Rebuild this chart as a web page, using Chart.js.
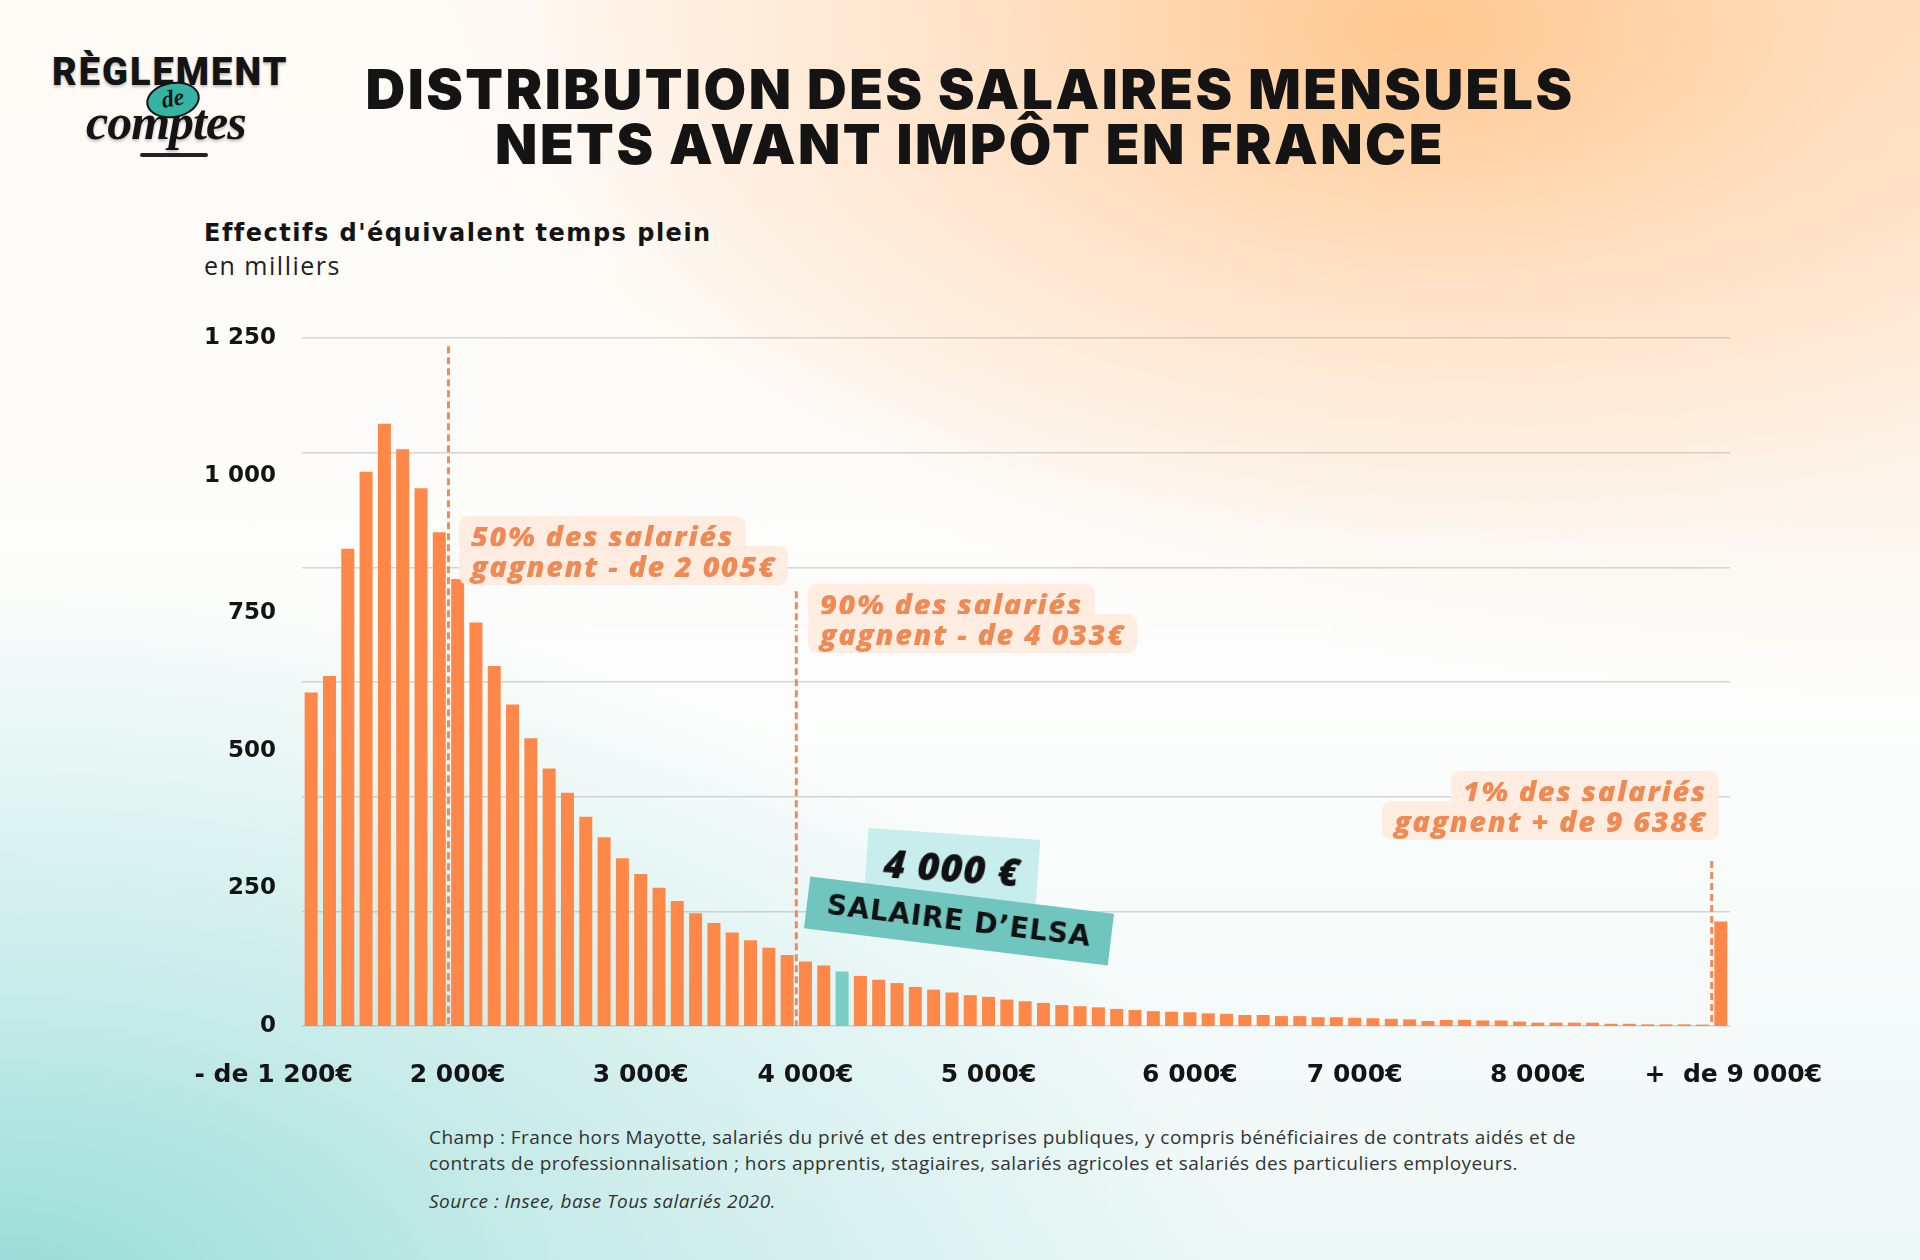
<!DOCTYPE html>
<html lang="fr">
<head>
<meta charset="UTF-8">
<title>Distribution des salaires mensuels nets avant impôt en France</title>
<script src="https://cdn.jsdelivr.net/npm/chart.js"></script>
<style>
  body { margin: 0; }
  #page {
    position: relative;
    width: 1920px;
    height: 1260px;
    overflow: hidden;
    font-family: "Open Sans", sans-serif;
    color: #141414;
    background:
      radial-gradient(ellipse 900px 520px at 1420px 30px, rgba(255,198,140,0.95), rgba(255,214,176,0.55) 50%, rgba(255,235,215,0) 100%),
      radial-gradient(ellipse 1500px 700px at 1920px 0px, rgba(255,222,190,0.75), rgba(255,240,225,0) 100%),
      radial-gradient(ellipse 1250px 720px at 0px 1300px, rgba(150,220,215,1), rgba(172,227,223,0.6) 45%, rgba(215,242,240,0) 100%),
      linear-gradient(to bottom, #fffaf6 0%, #fbfdfc 60%, #eef8f7 100%);
  }
  .abs { position: absolute; }

  /* logo */
  #logoTop { left: 52px; top: 50px; font-family: Roboto, sans-serif; font-weight: 900; font-size: 38px; letter-spacing: 2px; line-height: 44px; text-shadow: 0 2px 3px rgba(0,0,0,0.25); }
  #logoDe { left: 146px; top: 82px; width: 50px; height: 32px; border-radius: 50%; background: #35b4a6; border: 2px solid #111; transform: rotate(-10deg); text-align: center; font-family: "Liberation Serif", serif; font-style: italic; font-weight: 700; font-size: 24px; line-height: 28px; }
  #logoBas { left: 86px; top: 94px; font-family: "Liberation Serif", serif; font-style: italic; font-weight: 700; font-size: 50px; line-height: 56px; letter-spacing: -1px; text-shadow: 0 2px 3px rgba(0,0,0,0.25); }
  #logoTrait { left: 140px; top: 153px; width: 68px; height: 4px; border-radius: 3px; background: #222; }

  #titre { left: -30px; top: 62px; width: 2000px; text-align: center; font-family: Inter, sans-serif; font-weight: 900; font-size: 55px; line-height: 55px; letter-spacing: 2.5px; color: #141414; white-space: nowrap; }

  #yTitre { left: 204px; top: 218px; font-family: "DejaVu Sans", sans-serif; font-weight: 700; font-size: 24px; line-height: 30px; letter-spacing: 1.5px; }
  #yUnite { left: 204px; top: 250px; font-size: 25px; line-height: 30px; letter-spacing: 1.5px; color: #222; }

  #chartBox { left: 150px; top: 320px; width: 1770px; height: 790px; }

  .note { font-family: "Open Sans", sans-serif; font-style: italic; font-weight: 800; font-size: 29px; line-height: 30px; letter-spacing: 1.6px; color: #f08a55; white-space: nowrap; }
  .note span { background: rgba(255,236,224,0.92); padding: 0 12px; border-radius: 9px; -webkit-box-decoration-break: clone; box-decoration-break: clone; }

  #trait { left: 588px; top: 628px; width: 741px; height: 2px; background: rgba(255,255,255,0.9); }
  #trait::before, #trait::after { content: ""; position: absolute; top: -2px; width: 6px; height: 6px; border-radius: 50%; background: #fff; }
  #trait::before { left: -3px; }
  #trait::after { right: -3px; }

  #elsaMontant { left: 866px; top: 834px; width: 172px; height: 70px; background: rgba(196,236,236,0.95); transform: rotate(4deg); text-align: center; font-family: "Open Sans", sans-serif; font-style: italic; font-weight: 800; font-size: 38px; line-height: 66px; letter-spacing: 1px; color: #111; }
  #elsaNom { left: 806px; top: 895px; width: 306px; height: 52px; background: #70c6bf; transform: rotate(7deg); text-align: center; font-family: "DejaVu Sans", sans-serif; font-weight: 700; font-size: 28px; line-height: 52px; letter-spacing: 0.8px; color: #111; white-space: nowrap; }

  #champ { left: 429px; top: 1124px; font-size: 19px; line-height: 26px; letter-spacing: 0.45px; color: #333; white-space: nowrap; }
  #source { left: 429px; top: 1188px; font-size: 19px; line-height: 26px; letter-spacing: 0.45px; font-style: italic; color: #333; }
</style>
</head>
<body>
<div id="page">
  <div class="abs" id="logoTop">RÈGLEMENT</div>
  <div class="abs" id="logoBas">comptes</div>
  <div class="abs" id="logoDe">de</div>
  <div class="abs" id="logoTrait"></div>

  <div class="abs" id="titre">DISTRIBUTION DES SALAIRES MENSUELS<br>NETS AVANT IMPÔT EN FRANCE</div>

  <div class="abs" id="yTitre">Effectifs d'équivalent temps plein</div>
  <div class="abs" id="yUnite">en milliers</div>

  <div class="abs" id="chartBox"><canvas id="graphique" width="1770" height="790"></canvas></div>

  <div class="abs" id="trait"></div>

  <div class="abs note" style="left:459px; top:521px;"><span>50% des salariés<br>gagnent - de 2 005€</span></div>
  <div class="abs note" style="left:808px; top:589px;"><span>90% des salariés<br>gagnent - de 4 033€</span></div>
  <div class="abs note" style="right:201px; top:776px; text-align:right;"><span>1% des salariés<br>gagnent + de 9 638€</span></div>

  <div class="abs" id="elsaMontant">4 000 €</div>
  <div class="abs" id="elsaNom">SALAIRE D’ELSA</div>

  <div class="abs" id="champ">Champ : France hors Mayotte, salariés du privé et des entreprises publiques, y compris bénéficiaires de contrats aidés et de<br>contrats de professionnalisation ; hors apprentis, stagiaires, salariés agricoles et salariés des particuliers employeurs.</div>
  <div class="abs" id="source">Source : Insee, base Tous salariés 2020.</div>
</div>

<script>
  // Tranches de salaire (100 € chacune), en euros nets mensuels
  const tranches = [
    '- de 1 200', '1 200', '1 300', '1 400', '1 500', '1 600', '1 700', '1 800', '1 900', '2 000',
    '2 100', '2 200', '2 300', '2 400', '2 500', '2 600', '2 700', '2 800', '2 900', '3 000',
    '3 100', '3 200', '3 300', '3 400', '3 500', '3 600', '3 700', '3 800', '3 900', '4 000',
    '4 100', '4 200', '4 300', '4 400', '4 500', '4 600', '4 700', '4 800', '4 900', '5 000',
    '5 100', '5 200', '5 300', '5 400', '5 500', '5 600', '5 700', '5 800', '5 900', '6 000',
    '6 100', '6 200', '6 300', '6 400', '6 500', '6 600', '6 700', '6 800', '6 900', '7 000',
    '7 100', '7 200', '7 300', '7 400', '7 500', '7 600', '7 700', '7 800', '7 900', '8 000',
    '8 100', '8 200', '8 300', '8 400', '8 500', '8 600', '8 700', '+ de 9 000'
  ];

  // Effectifs en équivalent temps plein, en milliers
  const effectifs = [
    606, 636, 867, 1007, 1094, 1048, 977, 897, 812, 733,
    654, 584, 523, 468, 424, 380, 343, 305, 276, 251,
    227, 205, 187, 170, 156, 142, 129, 117, 110, 99,
    91, 84, 78, 71, 66, 61, 56, 53, 48, 45,
    42, 38, 36, 34, 31, 29, 27, 26, 25, 23,
    22, 20, 20, 18, 18, 16, 16, 15, 14, 13,
    12, 9, 11, 11, 10, 10, 8, 6, 6, 6,
    6, 4, 4, 3, 3, 3, 2.5, 190
  ];

  // barre mise en avant (salaire d'Elsa)
  const indexElsa = 29;

  // graduations
  const yTickValeurs = [0, 250, 500, 750, 1000, 1250];
  const yTickLabels = ['0', '250', '500', '750', '1 000', '1 250'];
  const grilleNiveaux = [0, 208.33, 416.67, 625, 833.33, 1041.67, 1250];
  const xTickIndex = [0, 8, 18, 27, 37, 48, 57, 67, 77];
  const xTickLabels = ['- de 1 200€', '2 000€', '3 000€', '4 000€', '5 000€', '6 000€', '7 000€', '8 000€', '+  de 9 000€'];

  // seuils : position entre deux barres, hauteur du trait (en milliers)
  const seuils = [
    { entre: 7.5, haut: 1235 },
    { entre: 26.5, haut: 790 },
    { entre: 76.5, haut: 300 }
  ];

  const ORANGE = '#ff8848';
  const TURQUOISE = '#7accc6';

  // Plugin pour les traits pointillés des seuils
  const lignesSeuils = {
    id: 'lignesSeuils',
    afterDatasetsDraw(chart) {
      const { ctx, scales: { x, y } } = chart;
      ctx.save();
      ctx.strokeStyle = '#ef8a5a';
      ctx.lineWidth = 3;
      ctx.setLineDash([7, 4]);
      seuils.forEach(s => {
        const px = x.getPixelForValue(s.entre);
        ctx.beginPath();
        ctx.moveTo(px, y.getPixelForValue(s.haut));
        ctx.lineTo(px, y.getPixelForValue(0));
        ctx.stroke();
      });
      ctx.restore();
    }
  };

  // pas de marge automatique autour des axes
  const sansMarge = s => { s.paddingLeft = 0; s.paddingRight = 0; s.paddingTop = 0; s.paddingBottom = 0; };

  const policeY = { family: '"DejaVu Sans", sans-serif', weight: 'bold', size: 23 };
  const policeX = { family: '"DejaVu Sans", sans-serif', weight: 'bold', size: 25 };

  new Chart(document.getElementById('graphique'), {
    type: 'bar',
    data: {
      labels: tranches,
      datasets: [{
        data: effectifs,
        backgroundColor: effectifs.map((v, i) => i === indexElsa ? TURQUOISE : ORANGE),
        barPercentage: 0.71,
        categoryPercentage: 1.0,
        borderWidth: 0
      }]
    },
    options: {
      responsive: false,
      animation: false,
      layout: { padding: { left: 0, right: 190, top: 18, bottom: 0 } },
      plugins: {
        legend: { display: false },
        tooltip: { enabled: false }
      },
      scales: {
        x: {
          type: 'category',
          grid: { display: false, drawTicks: false },
          border: { display: false },
          ticks: {
            autoSkip: false,
            maxRotation: 0,
            minRotation: 0,
            padding: 34,
            color: '#141414',
            font: policeX,
            callback: (v, i) => {
              const k = xTickIndex.indexOf(i);
              if (k < 0) return '';
              // le premier libellé déborde vers la gauche, le dernier vers la droite
              if (k === 0) return xTickLabels[k] + '\u2003\u2003\u2003';
              if (k === xTickLabels.length - 1) return '\u2003' + xTickLabels[k];
              return xTickLabels[k];
            }
          },
          afterFit: s => { s.height = 84; sansMarge(s); }
        },
        y: {
          min: 0,
          max: 1250,
          grid: { display: false, drawTicks: false },
          border: { display: false },
          afterBuildTicks: s => { s.ticks = yTickValeurs.map(v => ({ value: v })); },
          ticks: {
            padding: 26,
            color: '#141414',
            font: policeY,
            callback: (v, i) => yTickLabels[i]
          },
          afterFit: s => { s.width = 152; sansMarge(s); }
        },
        yGrille: {
          position: 'right',
          min: 0,
          max: 1250,
          grid: { color: 'rgba(140,140,140,0.35)', lineWidth: 1.5, drawTicks: false },
          border: { display: false },
          afterBuildTicks: s => { s.ticks = grilleNiveaux.map(v => ({ value: v })); },
          ticks: { display: false },
          afterFit: s => { s.width = 0; sansMarge(s); }
        }
      }
    },
    plugins: [lignesSeuils]
  });
</script>
</body>
</html>
